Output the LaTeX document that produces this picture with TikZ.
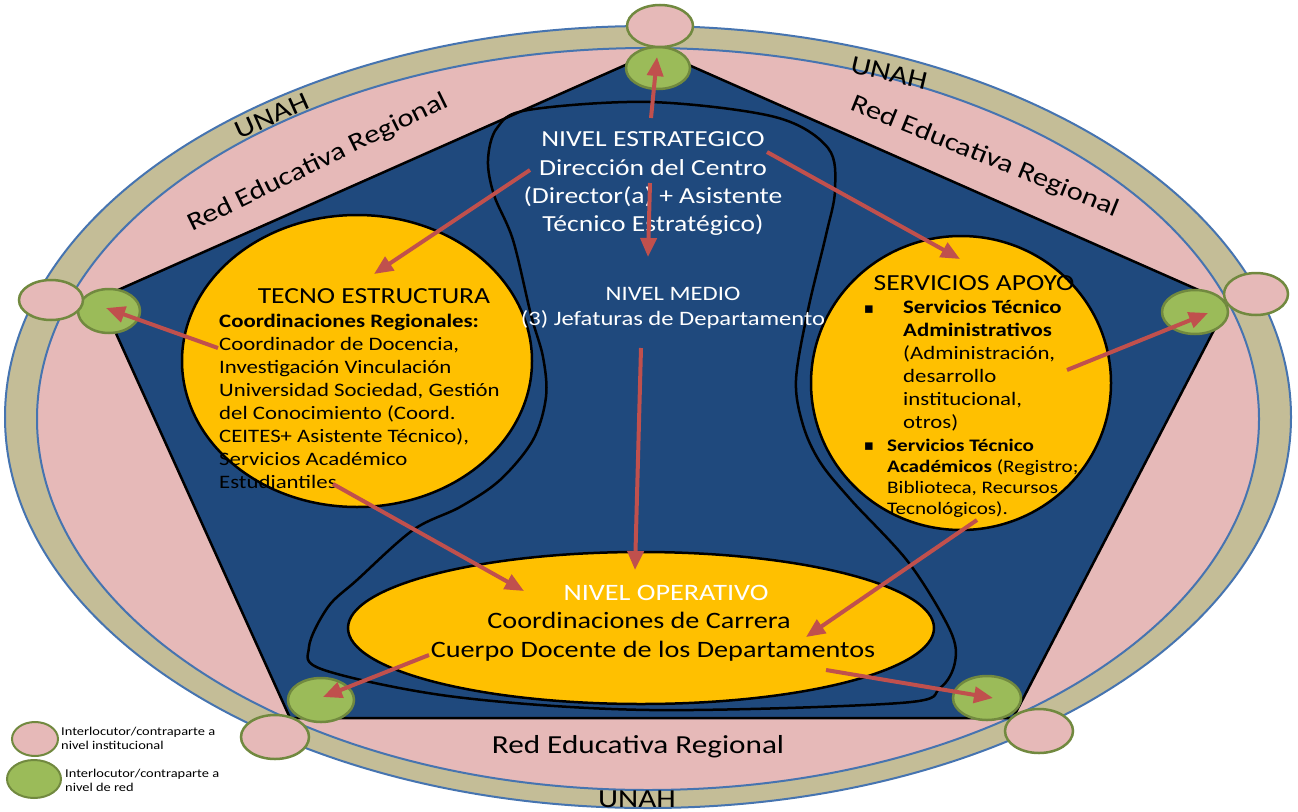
\documentclass[tikz,border=0pt]{standalone}
\usepackage{fontspec}
\setmainfont[FakeStretch=1.2]{Carlito}
\newfontfamily\symfont{DejaVu Sans}
\usetikzlibrary{arrows.meta,shapes.geometric}
\definecolor{navyC}{HTML}{1F497D}
\definecolor{pinkC}{HTML}{E6B9B8}
\definecolor{tanC}{HTML}{C4BD97}
\definecolor{ringC}{HTML}{4674B0}
\definecolor{yellowC}{HTML}{FFC000}
\definecolor{greenC}{HTML}{9BBB59}
\definecolor{greenB}{HTML}{71893F}
\definecolor{arrowC}{HTML}{C0504D}
\begin{document}
\begin{tikzpicture}[x=1pt,y=-1pt,
  lbl/.style={inner sep=0pt, anchor=base},
  lblw/.style={inner sep=0pt, anchor=base west},
  arr/.style={draw=arrowC, line width=4pt, -{Triangle[length=19pt,width=16pt]}},
  inst/.style={ellipse, draw=greenB, line width=2.5pt, fill=pinkC, inner sep=0pt},
  red/.style={ellipse, draw=greenB, line width=2.5pt, fill=greenC, inner sep=0pt},
  yel/.style={draw=black, line width=2.5pt, fill=yellowC},
  fA/.style={font=\fontsize{23}{28}\selectfont},
  fM/.style={font=\fontsize{20.5}{25}\selectfont},
  fT/.style={font=\fontsize{19}{23}\selectfont},
  fS/.style={font=\fontsize{17.6}{21}\selectfont},
  fR/.style={font=\fontsize{26}{30}\selectfont},
  fL/.style={font=\fontsize{12}{14}\selectfont}]
\useasboundingbox (0,0) rectangle (1298,811);
\fill[white] (0,0) rectangle (1298,811);
% rings
\draw[ringC, line width=2pt, fill=tanC] (648,417) ellipse [x radius=643, y radius=391];
\draw[ringC, line width=2pt, fill=pinkC] (648,419) ellipse [x radius=611, y radius=371];
% pentagon
\draw[black, line width=2.5pt, fill=navyC, line join=miter]
  (657,51) -- (1228,303) -- (1013,718) -- (290,718) -- (100,298) -- cycle;
% hourglass
\draw[black, line width=2.5pt] plot[smooth cycle, tension=0.55] coordinates {
  (497,128) (528,110) (650,102) (775,117) (828,148) (835,190) (826,235)
  (808,310) (796,380) (803,425) (820,462) (851,500) (909,563) (950,630)
  (955,662) (940,688) (900,703) (650,710) (456,697) (324,670) (309,647)
  (328,607) (357,580) (413,530) (460,507) (500,480) (533,440) (546,397)
  (543,357) (531,315) (513,240) (494,195) (488,160)};
% yellow ellipses
\draw[yel] (357,361) ellipse [x radius=175, y radius=146];
\draw[yel] (961,383) ellipse [x radius=150, y radius=147];
\draw[yel] (641,628) ellipse [x radius=293, y radius=76];
% ring labels
\node[fR, rotate=24] (unahL) at (272,116) {UNAH};
\node[fR, rotate=-13] (unahR) at (889,73) {UNAH};
\node[lbl, fR] (unahB) at (637,807) {UNAH};
\node[fR, font=\fontsize{25.5}{30}\selectfont, rotate=26] (redL) at (318,163) {Red Educativa Regional};
\node[fR, font=\fontsize{25.5}{30}\selectfont, rotate=-22] (redR) at (985,157) {Red Educativa Regional};
\node[lbl, fR] (redB) at (638,753) {Red Educativa Regional};
% nivel estrategico
\begin{scope}[text=white]
\node[lbl, fA] (e1) at (653,146) {NIVEL ESTRATEGICO};
\node[lbl, fA] (e2) at (653,175) {Dirección del Centro};
\node[lbl, fA] (e3) at (653,203) {(Director(a) + Asistente};
\node[lbl, fA] (e4) at (653,231) {Técnico Estratégico)};
\node[lbl, fM] (m1) at (673,300) {NIVEL MEDIO};
\node[lbl, fM] (m2) at (673,325) {(3) Jefaturas de Departamento};
\node[lbl, fA, font=\fontsize{23.5}{29}\selectfont] (o1) at (666,600) {NIVEL OPERATIVO};
\end{scope}
\node[lbl, fA, font=\fontsize{23.5}{29}\selectfont] (o2) at (639,628) {Coordinaciones de Carrera};
\node[lbl, fA, font=\fontsize{23.5}{29}\selectfont] (o3) at (653,657) {Cuerpo Docente de los Departamentos};
% tecno estructura
\node[lbl, fA] (t0) at (374,303) {TECNO ESTRUCTURA};
\node[lblw, fT] (t1) at (219,327) {\bfseries Coordinaciones Regionales:};
\node[lblw, fT] (t2) at (219,350) {Coordinador de Docencia,};
\node[lblw, fT] (t3) at (219,373) {Investigación Vinculación};
\node[lblw, fT] (t4) at (219,396) {Universidad Sociedad, Gestión};
\node[lblw, fT] (t5) at (219,419) {del Conocimiento (Coord.};
\node[lblw, fT] (t6) at (219,442) {CEITES+ Asistente Técnico),};
\node[lblw, fT] (t7) at (219,465) {Servicios Académico};
\node[lblw, fT] (t8) at (219,488) {Estudiantiles};
% servicios apoyo
\node[lbl, fA] (s0) at (974,290) {SERVICIOS APOYO};
\node[lbl, font=\symfont\fontsize{15}{15}\selectfont] (b1) at (869,313) {▪};
\node[lblw, fT] (s1) at (903,313) {\bfseries Servicios Técnico};
\node[lblw, fT] (s2) at (903,336) {\bfseries Administrativos};
\node[lblw, fT] (s3) at (903,359) {(Administración,};
\node[lblw, fT] (s4) at (903,382) {desarrollo};
\node[lblw, fT] (s5) at (903,405) {institucional,};
\node[lblw, fT] (s6) at (903,428) {otros)};
\node[lbl, font=\symfont\fontsize{15}{15}\selectfont] (b2) at (869,450) {▪};
\node[lblw, fS] (s7) at (887,451) {\bfseries Servicios Técnico};
\node[lblw, fS] (s8) at (887,472) {\textbf{Académicos} (Registro;};
\node[lblw, fS] (s9) at (887,493) {Biblioteca, Recursos};
\node[lblw, fS] (s10) at (887,514) {Tecnológicos).};
% interlocutor circles
\node[red, minimum width=64pt, minimum height=42pt] (gT) at (658,68) {};
\node[inst, minimum width=66pt, minimum height=42pt] (pT) at (660,26) {};
\node[red, minimum width=62pt, minimum height=44pt] (gL) at (109,311) {};
\node[inst, minimum width=64pt, minimum height=40pt] (pL) at (51,300) {};
\node[red, minimum width=66pt, minimum height=44pt] (gR) at (1195,312) {};
\node[inst, minimum width=64pt, minimum height=42pt] (pR) at (1256,294) {};
\node[red, minimum width=66pt, minimum height=44pt] (gBL) at (321,700) {};
\node[inst, minimum width=68pt, minimum height=44pt] (pBL) at (275,737) {};
\node[red, minimum width=68pt, minimum height=44pt] (gBR) at (987,698) {};
\node[inst, minimum width=68pt, minimum height=44pt] (pBR) at (1039,731) {};
% arrow coordinates
\coordinate (a1s) at (651,118); \coordinate (a1e) at (657,57);
\coordinate (a2s) at (530,170); \coordinate (a2e) at (374,274);
\coordinate (a3s) at (767,152); \coordinate (a3e) at (960,259);
\coordinate (a4s) at (650,183); \coordinate (a4e) at (648,257);
\coordinate (a5s) at (641,348); \coordinate (a5e) at (635,570);
\coordinate (a6s) at (218,348); \coordinate (a6e) at (106,308);
\coordinate (a7s) at (1067,370); \coordinate (a7e) at (1208,313);
\coordinate (a8s) at (333,484); \coordinate (a8e) at (524,591);
\coordinate (a9s) at (977,520); \coordinate (a9e) at (806,637);
\coordinate (a10s) at (429,655); \coordinate (a10e) at (323,697);
\coordinate (a11s) at (826,670); \coordinate (a11e) at (993,698);
\foreach \i in {1,...,11} \draw[arr] (a\i s) -- (a\i e);
% legend
\node[inst, line width=2pt, minimum width=46pt, minimum height=34pt] (lp) at (35,739) {};
\node[red, line width=2pt, minimum width=54pt, minimum height=38pt] (lg) at (34,779) {};
\node[lblw, fL] (l1) at (61,735) {Interlocutor/contraparte a};
\node[lblw, fL] (l2) at (61,749) {nivel institucional};
\node[lblw, fL] (l3) at (65,777) {Interlocutor/contraparte a};
\node[lblw, fL] (l4) at (65,791) {nivel de red};
\end{tikzpicture}
\end{document}
